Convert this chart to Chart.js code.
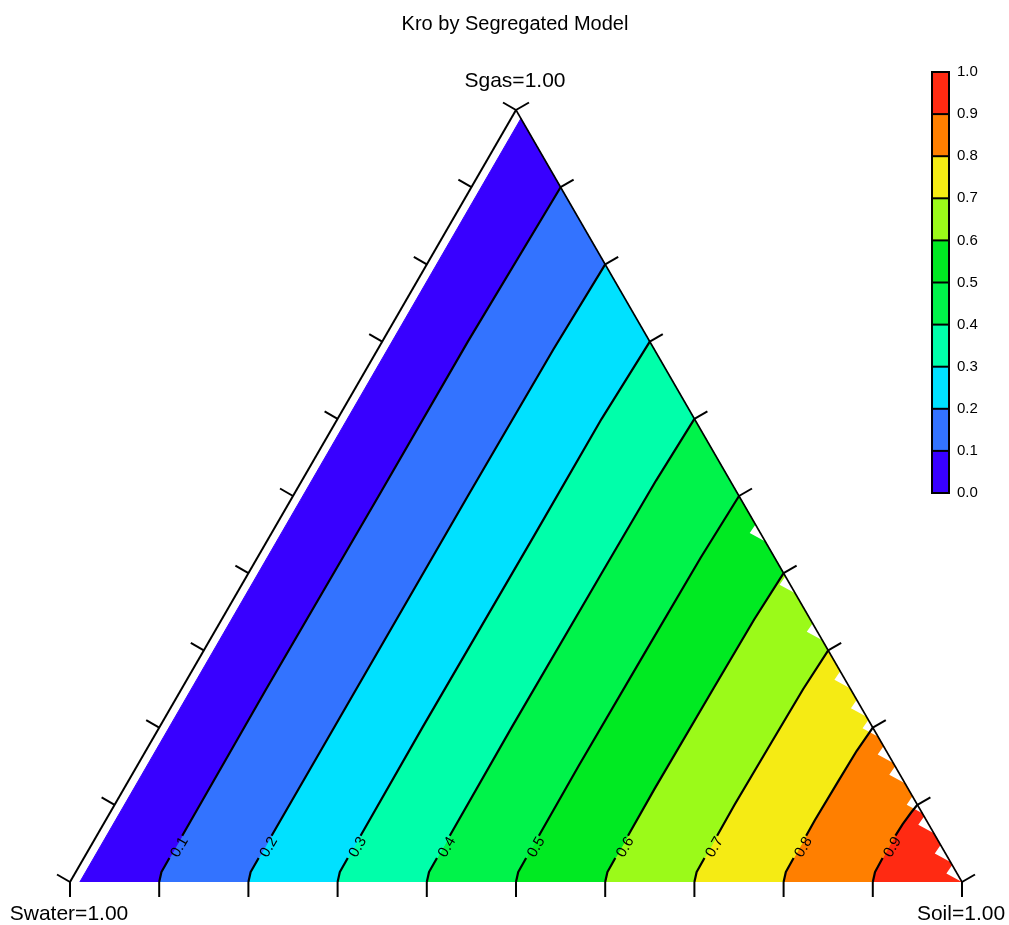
<!DOCTYPE html>
<html><head><meta charset="utf-8">
<script src="https://cdn.jsdelivr.net/npm/chart.js@4.4.1/dist/chart.umd.min.js"></script>
<style>html,body{margin:0;padding:0;background:#fff;}canvas{display:block;}</style>
</head><body>
<canvas id="c" width="1009" height="925"></canvas>
<script>
// ---------------- data ----------------
const chartTitle = 'Kro by Segregated Model';
const vertexWater = 'Swater=1.00';
const vertexOil = 'Soil=1.00';
const vertexGas = 'Sgas=1.00';
const contourLevels = [0.1, 0.2, 0.3, 0.4, 0.5, 0.6, 0.7, 0.8, 0.9];
const contourLabels = ['0.1', '0.2', '0.3', '0.4', '0.5', '0.6', '0.7', '0.8', '0.9'];
const colorbarTicks = ['0.0', '0.1', '0.2', '0.3', '0.4', '0.5', '0.6', '0.7', '0.8', '0.9', '1.0'];
const bandColors = ['#3800ff', '#3373ff', '#00e1ff', '#00ffaa', '#00f34a', '#00ea22', '#9bfa19', '#f5eb14', '#ff7f00', '#ff2a12'];
const axisTicks = [0, 0.1, 0.2, 0.3, 0.4, 0.5, 0.6, 0.7, 0.8, 0.9, 1.0];
// contour paths as [Soil, Sgas] pairs (bottom edge -> right edge)
const contour01 = [[0.100, 0.000], [0.096, 0.013], [0.095, 0.250], [0.096, 0.500], [0.096, 0.700], [0.100, 0.900]];
const contour02 = [[0.200, 0.000], [0.196, 0.013], [0.196, 0.250], [0.196, 0.500], [0.197, 0.690], [0.200, 0.800]];
const contour03 = [[0.300, 0.000], [0.296, 0.013], [0.295, 0.200], [0.296, 0.450], [0.296, 0.600], [0.300, 0.700]];
const contour04 = [[0.400, 0.000], [0.396, 0.013], [0.395, 0.200], [0.396, 0.400], [0.397, 0.520], [0.400, 0.600]];
const contour05 = [[0.500, 0.000], [0.496, 0.013], [0.495, 0.150], [0.496, 0.300], [0.497, 0.420], [0.500, 0.500]];
const contour06 = [[0.600, 0.000], [0.596, 0.013], [0.595, 0.120], [0.596, 0.250], [0.597, 0.340], [0.600, 0.400]];
const contour07 = [[0.700, 0.000], [0.696, 0.013], [0.695, 0.100], [0.696, 0.180], [0.697, 0.250], [0.700, 0.300]];
const contour08 = [[0.800, 0.000], [0.796, 0.013], [0.795, 0.080], [0.796, 0.130], [0.797, 0.170], [0.800, 0.200]];
const contour09 = [[0.900, 0.000], [0.896, 0.013], [0.895, 0.050], [0.896, 0.075], [0.898, 0.090], [0.900, 0.100]];
const contours = [contour01, contour02, contour03, contour04, contour05, contour06, contour07, contour08, contour09];
const leftGapSoil = 0.011;            // unfilled sliver along the Soil=0 edge
const edgeGapSgas = [0.452, 0.385, 0.324, 0.262, 0.225, 0.199, 0.165, 0.139, 0.100, 0.074, 0.037, 0.011]; // unfilled notches on the Swater=0 edge
const labelSgas = 0.045;

// ---------------- helpers ----------------
const H = Math.sqrt(3) / 2;
const toXY = ([so, sg]) => ({x: so + sg / 2, y: sg * H});
function soilAt(path, sg) {
  for (let i = 1; i < path.length; i++) {
    const a = path[i - 1], b = path[i];
    if (sg >= a[1] && sg <= b[1]) {
      const t = (sg - a[1]) / (b[1] - a[1]);
      return a[0] + t * (b[0] - a[0]);
    }
  }
  return path[path.length - 1][0];
}
function withGap(path, lo, hi) {
  const out = [];
  path.forEach(p => { if (p[1] < lo) out.push(toXY(p)); });
  out.push(toXY([soilAt(path, lo), lo]));
  out.push({x: null, y: null});
  out.push(toXY([soilAt(path, hi), hi]));
  path.forEach(p => { if (p[1] > hi) out.push(toXY(p)); });
  return out;
}

// band polygons
const bandPolys = [];
bandPolys.push([[leftGapSoil, 0], [leftGapSoil, 1 - leftGapSoil], ...contour01.slice().reverse()]);
for (let i = 0; i < contours.length - 1; i++) {
  bandPolys.push([...contours[i], ...contours[i + 1].slice().reverse()]);
}
bandPolys.push([...contour09, [1, 0]]);

// notch polygon along right edge
const nd = 0.011, nw = 0.012;
const gapPoly = [];
edgeGapSgas.forEach(s => {
  gapPoly.push([1 - (s + nd), s + nd]);
  gapPoly.push([1 - s - nw, s]);
  gapPoly.push([1 - Math.max(s - nd, 0), Math.max(s - nd, 0)]);
});

const datasets = [];
bandPolys.forEach((poly, i) => datasets.push({
  data: poly.map(toXY), showLine: true, fill: 'shape',
  backgroundColor: bandColors[i], borderColor: bandColors[i], borderWidth: 1,
  pointRadius: 0, order: 3, tension: 0
}));
datasets.push({
  data: gapPoly.map(toXY), showLine: true, fill: 'shape',
  backgroundColor: '#ffffff', borderColor: 'rgba(0,0,0,0)', borderWidth: 1,
  pointRadius: 0, order: 2, tension: 0
});
contours.forEach(path => datasets.push({
  data: withGap(path, 0.031, 0.060), showLine: true, fill: false,
  borderColor: '#000', borderWidth: 2.2, pointRadius: 0, order: 1, tension: 0,
  borderJoinStyle: 'round', spanGaps: false
}));

const FONT = '"Liberation Sans", Arial, Helvetica, sans-serif';

const ternaryFrame = {
  id: 'ternaryFrame',
  afterDatasetsDraw(chart) {
    const {ctx} = chart;
    const sx = chart.scales.x, sy = chart.scales.y;
    const P = (so, sg) => [sx.getPixelForValue(so + sg / 2), sy.getPixelForValue(sg * H)];
    const seg = (a, b) => { ctx.beginPath(); ctx.moveTo(a[0], a[1]); ctx.lineTo(b[0], b[1]); ctx.stroke(); };
    ctx.save();
    ctx.strokeStyle = '#000';
    ctx.lineCap = 'butt';
    ctx.lineWidth = 2;
    seg(P(0, 0), P(0, 1));
    ctx.lineWidth = 1.6;
    seg(P(0, 1), P(1, 0));
    ctx.lineWidth = 2;
    const L = 15;
    axisTicks.forEach(t => {
      const b = P(t, 0); seg(b, [b[0], b[1] + L]);
      const l = P(0, t); seg(l, [l[0] - L * 0.866, l[1] - L * 0.5]);
      const r = P(1 - t, t); seg(r, [r[0] + L * 0.866, r[1] - L * 0.5]);
    });
    // contour labels, written along the contour direction
    ctx.fillStyle = '#000';
    ctx.font = '15px ' + FONT;
    ctx.textAlign = 'center';
    ctx.textBaseline = 'middle';
    contours.forEach((path, i) => {
      const so = soilAt(path, labelSgas);
      const p = P(so, labelSgas);
      const q = P(so, labelSgas + 0.1);
      const ang = Math.atan2(q[1] - p[1], q[0] - p[0]);
      ctx.save();
      ctx.translate(p[0] + 4, p[1]);
      ctx.rotate(ang);
      ctx.fillText(contourLabels[i], 0, 0);
      ctx.restore();
    });
    ctx.restore();
  },
  afterDraw(chart) {
    const {ctx} = chart;
    ctx.save();
    ctx.fillStyle = '#000';
    ctx.textAlign = 'center';
    ctx.textBaseline = 'alphabetic';
    ctx.font = '20px ' + FONT;
    ctx.fillText(chartTitle, 515, 30);
    ctx.font = '21px ' + FONT;
    ctx.fillText(vertexGas, 515, 87);
    ctx.fillText(vertexWater, 69, 920);
    ctx.fillText(vertexOil, 961, 920);
    // colorbar
    const cx = 932, cw = 17, ct = 72, cb = 493;
    const n = bandColors.length, h = (cb - ct) / n;
    for (let i = 0; i < n; i++) {
      ctx.fillStyle = bandColors[i];
      ctx.fillRect(cx, cb - (i + 1) * h, cw, h);
    }
    ctx.strokeStyle = '#000';
    ctx.lineWidth = 2;
    ctx.strokeRect(cx, ct, cw, cb - ct);
    for (let i = 1; i < n; i++) {
      ctx.beginPath(); ctx.moveTo(cx, cb - i * h); ctx.lineTo(cx + cw, cb - i * h); ctx.stroke();
    }
    ctx.fillStyle = '#000';
    ctx.font = '15px ' + FONT;
    ctx.textAlign = 'left';
    ctx.textBaseline = 'middle';
    colorbarTicks.forEach((t, i) => ctx.fillText(t, 957, cb - i * h));
    ctx.restore();
  }
};

new Chart(document.getElementById('c'), {
  type: 'line',
  data: {datasets},
  options: {
    responsive: false, devicePixelRatio: 1, animation: false,
    layout: {padding: {left: 70, right: 47, top: 110, bottom: 43}},
    scales: {
      x: {type: 'linear', min: 0, max: 1, display: false},
      y: {type: 'linear', min: 0, max: H, display: false}
    },
    plugins: {legend: {display: false}, tooltip: {enabled: false}, title: {display: false}},
    events: []
  },
  plugins: [ternaryFrame]
});
</script>
</body></html>
